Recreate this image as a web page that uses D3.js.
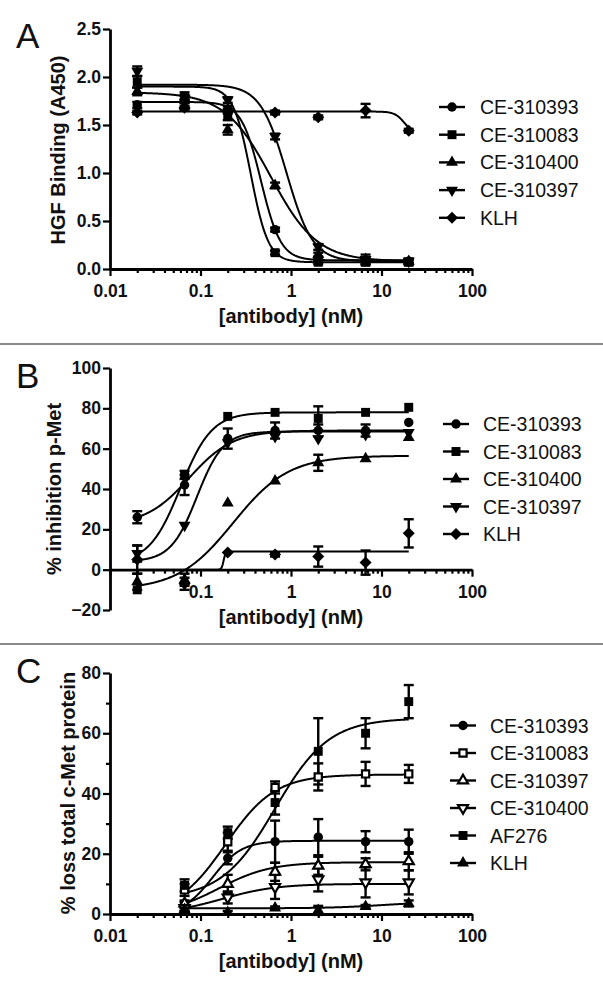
<!DOCTYPE html>
<html>
<head>
<meta charset="utf-8">
<script src="https://cdn.jsdelivr.net/npm/d3@7"></script>
<style>
  body { margin: 0; background: #fff; }
  svg { display: block; font-family: "Liberation Sans", Arial, sans-serif; }
</style>
</head>
<body>
<svg id="fig" width="603" height="989"></svg>
<script>
// doses in nM
const dosesAB = [0.02, 0.0667, 0.2, 0.667, 2, 6.67, 20];
const dosesC = [0.0667, 0.2, 0.667, 2, 6.67, 20];
const xTicks = [0.01, 0.1, 1, 10, 100];

// panel A - HGF binding (A450)
const namesA = ["CE-310393", "CE-310083", "CE-310400", "CE-310397", "KLH"];
const symbolsA = ["circle", "square", "triUp", "triDown", "diamond"];
const valuesA = [
    [1.71, 1.75, 1.66, 0.41, 0.10, 0.08, 0.08],
    [1.95, 1.80, 1.60, 0.17, 0.07, 0.07, 0.07],
    [1.85, 1.70, 1.45, 0.87, 0.15, 0.10, 0.08],
    [2.06, 1.78, 1.76, 1.38, 0.23, 0.10, 0.08],
    [1.63, 1.68, 1.65, 1.63, 1.58, 1.65, 1.44],
];
const errorsA = [
    [0.03, 0.02, 0.04, 0.02, 0.02, 0.02, 0.02],
    [0.06, 0.04, 0.05, 0.02, 0.02, 0.03, 0.03],
    [0.04, 0.03, 0.05, 0.03, 0.02, 0.02, 0.02],
    [0.05, 0.03, 0.03, 0.03, 0.03, 0.05, 0.03],
    [0.02, 0.02, 0.02, 0.02, 0.02, 0.07, 0.02],
];
// fitted curves: [low-dose plateau, high-dose plateau, EC50, hill]
const fitsA = [
    [1.74, 0.09, 0.467, 4],
    [1.90, 0.07, 0.36, 4.5],
    [1.84, 0.08, 0.60, 1.7],
    [1.92, 0.08, 0.894, 3],
    [1.64, 1.40, 18, 8],
];

// panel B - % inhibition p-Met
const namesB = ["CE-310393", "CE-310083", "CE-310400", "CE-310397", "KLH"];
const symbolsB = ["circle", "square", "triUp", "triDown", "diamond"];
const valuesB = [
    [26, 42, 65, 69, 69, 69, 73],
    [-10, 47, 76, 78, 75, 78, 80.5],
    [-6, -5, 33, 44, 53, 55, 65.5],
    [8, 22, 63, 66, 65, 67, 68],
    [5, -7, 8.5, 7.5, 6.5, 3.5, 18],
];
const errorsB = [
    [3, 5, 5, 4, 3, 3, 0],
    [0, 2, 0, 0, 6, 0, 0],
    [4, 3, 0, 0, 4, 0, 0],
    [4, 0, 0, 0, 0, 0, 0],
    [7, 3, 0, 1, 5, 6, 7],
];
const fitsB = [
    [22, 69, 0.075, 1.8],
    [3, 78, 0.06, 2.5],
    [-10, 56.5, 0.23, 1.42],
    [4, 68.5, 0.0915, 3],
    [0, 9, 0.18, 40],
];

// panel C - % loss total c-Met protein
const namesC = ["CE-310393", "CE-310083", "CE-310397", "CE-310400", "AF276", "KLH"];
const symbolsC = ["circle", "squareOpen", "triUpOpen", "triDownOpen", "square", "triUp"];
const valuesC = [
    [3, 18.5, 24, 25.5, 24, 24],
    [8, 24, 42, 45.5, 46.5, 46.5],
    [3.5, 10, 14, 16, 16.5, 17.5],
    [2, 5.5, 9, 11.5, 10.5, 10.5],
    [9.5, 27, 37, 54, 60, 70.5],
    [1.5, 0.5, 2, 1.2, 2.5, 3.5],
];
const errorsC = [
    [1, 2, 7, 6, 3.5, 4],
    [2, 3, 2, 4.5, 4, 3],
    [1, 3, 3, 3, 2, 3],
    [1, 2, 4, 4, 5, 4],
    [2, 2, 4, 11, 5, 5.5],
    [0.5, 0.5, 0.5, 1.5, 0.5, 1],
];
const fitsC = [
    [0, 24.3, 0.136, 2.7],
    [0, 46.3, 0.19, 1.6],
    [0, 17.2, 0.162, 1.54],
    [0, 10, 0.174, 1.445],
    [5, 65, 0.667, 1.46],
    [1.9, 4, 10, 1.5],
];

const svg = d3.select("#fig");
const x = d3.scaleLog().domain([0.01, 100]).range([110, 472]);
const minorX = d3.range(-2, 2).flatMap(e => d3.range(2, 10).map(m => m * Math.pow(10, e)));

const symbolDefs = {
    circle: { type: d3.symbolCircle, size: 70, rot: 0, open: false },
    square: { type: d3.symbolSquare, size: 80, rot: 0, open: false },
    triUp: { type: d3.symbolTriangle, size: 62, rot: 0, open: false },
    triDown: { type: d3.symbolTriangle, size: 62, rot: 180, open: false },
    diamond: { type: d3.symbolSquare, size: 72, rot: 45, open: false },
    squareOpen: { type: d3.symbolSquare, size: 52, rot: 0, open: true },
    triUpOpen: { type: d3.symbolTriangle, size: 44, rot: 0, open: true },
    triDownOpen: { type: d3.symbolTriangle, size: 44, rot: 180, open: true },
};

drawSymbol = (g, kind, cx, cy) => {
    const s = symbolDefs[kind];
    g.append("path")
        .attr("d", d3.symbol(s.type, s.size)())
        .attr("transform", `translate(${cx},${cy}) rotate(${s.rot})`)
        .attr("fill", s.open ? "#fff" : "#000")
        .attr("stroke", "#000")
        .attr("stroke-width", s.open ? 2.2 : 0);
}

fitValue = (f, d) => f[1] + (f[0] - f[1]) / (1 + Math.pow(d / f[2], f[3]));

drawPanel = (p) => {
    const y = d3.scaleLinear().domain(p.yDomain).range(p.yRange);
    const g = svg.append("g");
    const axisY = y(0);

    // panel letter
    g.append("text")
        .attr("x", 16).attr("y", p.letterY)
        .attr("font-size", 35)
        .attr("fill", "#111")
        .text(p.letter);

    // curves
    const line = d3.line().x(d => x(d[0])).y(d => y(d[1]));
    const lo = Math.log10(p.doses[0]), hi = Math.log10(p.doses[p.doses.length - 1]);
    p.fits.forEach(f => {
        const pts = d3.range(0, 401).map(i => {
            const d = Math.pow(10, lo + (hi - lo) * i / 400);
            return [d, fitValue(f, d)];
        });
        g.append("path")
            .attr("d", line(pts))
            .attr("fill", "none")
            .attr("stroke", "#000")
            .attr("stroke-width", 2);
    });

    // error bars
    p.values.forEach((vals, si) => {
        vals.forEach((v, i) => {
            const e = p.errors[si][i];
            if (!e) return;
            const cx = x(p.doses[i]);
            const eb = g.append("g").attr("stroke", "#000").attr("stroke-width", 2.4);
            eb.append("line").attr("x1", cx).attr("x2", cx).attr("y1", y(v - e)).attr("y2", y(v + e));
            [v - e, v + e].forEach(c => {
                eb.append("line").attr("x1", cx - 5).attr("x2", cx + 5).attr("y1", y(c)).attr("y2", y(c));
            });
        });
    });

    // axes
    const gx = g.append("g")
        .attr("transform", `translate(0,${axisY})`)
        .call(d3.axisBottom(x).tickValues(xTicks).tickSize(7).tickSizeOuter(0)
            .tickFormat(d => p.hideX.includes(d) ? "" : d3.format("~g")(d)));
    gx.append("g")
        .call(d3.axisBottom(x).tickValues(minorX).tickSize(4).tickSizeOuter(0).tickFormat(""))
        .call(a => a.select(".domain").remove());
    gx.selectAll("text").attr("y", 28).attr("dy", 0);

    const gy = g.append("g")
        .attr("transform", `translate(110,0)`)
        .call(d3.axisLeft(y).tickValues(p.yTicks).tickSize(7).tickSizeOuter(0).tickPadding(2)
            .tickFormat(d3.format(p.yFormat)));
    if (p.yMinor.length) {
        gy.append("g")
            .call(d3.axisLeft(y).tickValues(p.yMinor).tickSize(4).tickSizeOuter(0).tickFormat(""))
            .call(a => a.select(".domain").remove());
    }

    [gx, gy].forEach(a => {
        a.attr("font-family", null).attr("font-size", 17.5).attr("font-weight", "bold");
        a.selectAll(".domain").attr("stroke", "#000").attr("stroke-width", 2.8);
        a.selectAll(".tick line").attr("stroke", "#000").attr("stroke-width", 2.2);
        a.selectAll("text").attr("fill", "#111");
    });

    // markers over everything else
    p.values.forEach((vals, si) => {
        vals.forEach((v, i) => drawSymbol(g, p.symbols[si], x(p.doses[i]), y(v)));
    });

    // axis titles
    g.append("text")
        .attr("x", 291).attr("y", axisY + 54)
        .attr("text-anchor", "middle")
        .attr("font-size", 20).attr("font-weight", "bold").attr("fill", "#111")
        .text("[antibody] (nM)");
    g.append("text")
        .attr("transform", `translate(${p.yTitleX},${p.yTitleY}) rotate(-90)`)
        .attr("text-anchor", "middle")
        .attr("font-size", 20).attr("font-weight", "bold").attr("fill", "#111")
        .text(p.yTitle);

    // legend
    p.names.forEach((name, i) => {
        const ly = p.legendY + i * p.legendStep;
        g.append("line")
            .attr("x1", p.legendX).attr("x2", p.legendX + 26)
            .attr("y1", ly).attr("y2", ly)
            .attr("stroke", "#000").attr("stroke-width", 2.4);
        drawSymbol(g, p.symbols[i], p.legendX + 13, ly);
        g.append("text")
            .attr("x", p.legendX + p.textGap).attr("y", ly + 7)
            .attr("font-size", 19.5).attr("fill", "#111")
            .text(name);
    });
}

drawPanel({
    letter: "A", letterY: 48,
    doses: dosesAB, names: namesA, symbols: symbolsA, values: valuesA, errors: errorsA, fits: fitsA,
    yDomain: [0, 2.5], yRange: [269, 29], yTicks: [0, 0.5, 1, 1.5, 2, 2.5], yMinor: [], yFormat: ".1f",
    hideX: [], yTitle: "HGF Binding (A450)", yTitleX: 65, yTitleY: 150,
    legendX: 439, textGap: 41, legendY: 107, legendStep: 27.7,
});

drawPanel({
    letter: "B", letterY: 388,
    doses: dosesAB, names: namesB, symbols: symbolsB, values: valuesB, errors: errorsB, fits: fitsB,
    yDomain: [-20, 100], yRange: [610, 368], yTicks: [-20, 0, 20, 40, 60, 80, 100], yMinor: [], yFormat: "d",
    hideX: [0.01], yTitle: "% inhibition p-Met", yTitleX: 61, yTitleY: 489,
    legendX: 443, textGap: 40, legendY: 424, legendStep: 27.5,
});

drawPanel({
    letter: "C", letterY: 683,
    doses: dosesC, names: namesC, symbols: symbolsC, values: valuesC, errors: errorsC, fits: fitsC,
    yDomain: [0, 80], yRange: [914, 673], yTicks: [0, 20, 40, 60, 80], yMinor: [10, 30, 50, 70], yFormat: "d",
    hideX: [], yTitle: "% loss total c-Met protein", yTitleX: 75, yTitleY: 793,
    legendX: 450, textGap: 40, legendY: 725.5, legendStep: 27.5,
});

// panel separators
svg.selectAll("line.sep")
    .data([344, 644])
    .join("line")
    .attr("class", "sep")
    .attr("x1", 0).attr("x2", 603)
    .attr("y1", d => d).attr("y2", d => d)
    .attr("stroke", "#8a8a8a")
    .attr("stroke-width", 2);
</script>
</body>
</html>
